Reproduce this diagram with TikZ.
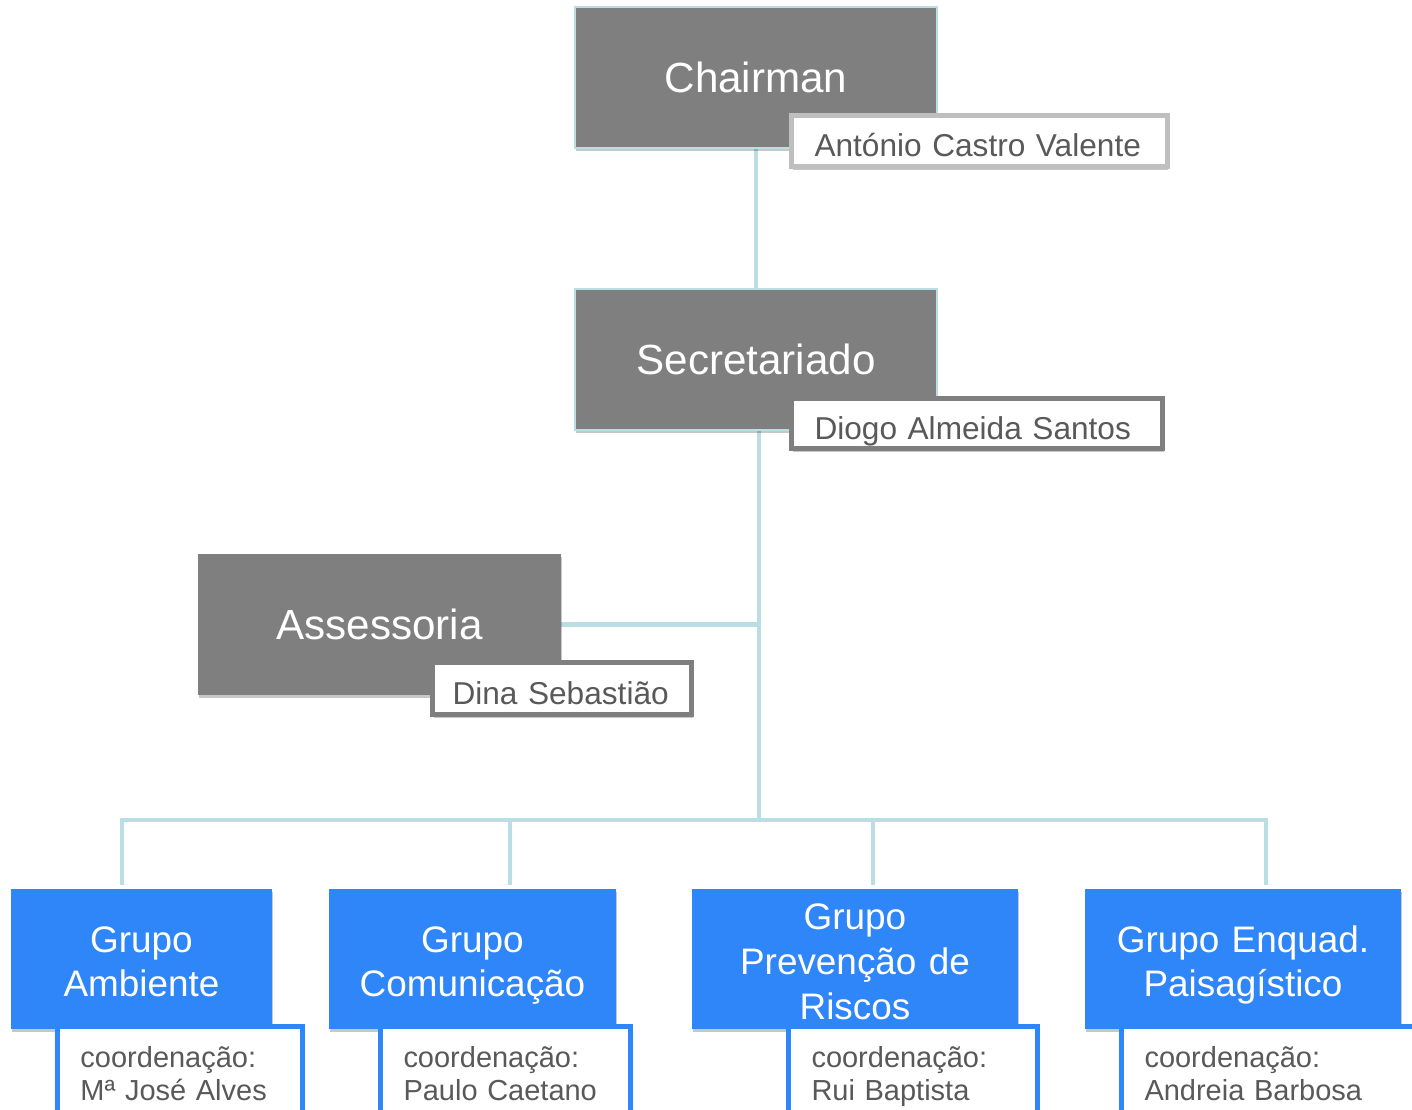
\documentclass[tikz,border=0pt]{standalone}
\usepackage{fontspec}
\setmainfont{Liberation Sans}
\usetikzlibrary{shadows,backgrounds}
\definecolor{boxgray}{HTML}{7F7F7F}
\definecolor{linkteal}{HTML}{BADEE4}
\definecolor{grpblue}{HTML}{2F86F8}
\definecolor{namegray}{HTML}{595959}
\definecolor{lightframe}{HTML}{BFBFBF}

\begin{document}
\begin{tikzpicture}[x=0.02cm, y=-0.02cm,
	boxshadow/.style={drop shadow={shadow xshift=0.6pt, shadow yshift=-1.8pt, opacity=0.22, fill=black}},
	head/.style={boxshadow, fill=boxgray, text=white, anchor=north west, outer sep=0pt, inner sep=0pt, font=\fontsize{24}{28}\selectfont},
	namebox/.style={boxshadow, fill=white, draw=boxgray, line width=2.8pt, anchor=north west, outer sep=0pt, inner xsep=0.46cm, inner ysep=0pt, text height=0.64cm, text depth=0pt, text=namegray, align=left, font=\fontsize{18}{21}\selectfont},
	group/.style={boxshadow, fill=grpblue, text=white, anchor=north west, outer sep=0pt, inner sep=0pt, minimum height=2.8cm, align=center, text height=17.6pt, text depth=25.5pt, font=\fontsize{21}{25.5}\selectfont},
	coord/.style={boxshadow, fill=white, draw=grpblue, line width=2.8pt, anchor=north west, outer sep=0pt, inner xsep=0.46cm, inner ysep=0.39cm, text=namegray, align=left, font=\fontsize{16.5}{19.3}\selectfont},
	link/.style={linkteal, line width=2.8pt, line cap=rect}]
	\useasboundingbox (0,0) rectangle (1412,1109);
	\clip (0,0) rectangle (1412,1109);

	% heads
	\node[head, draw=linkteal, line width=1pt, minimum width=7.24cm, minimum height=2.82cm] (chair) at (575,7) {Chairman};
	\node[namebox, draw=lightframe, text width=6.6cm, minimum height=1.02cm] (chairname) at (791.5,115.5) {António Castro Valente};
	\node[head, draw=linkteal, line width=1pt, minimum width=7.24cm, minimum height=2.82cm] (secr) at (575,289) {Secretariado};
	\node[namebox, text width=6.5cm, minimum height=1.0cm] (secrname) at (791.5,398.5) {Diogo Almeida Santos};
	\node[head, minimum width=7.26cm, minimum height=2.82cm] (ass) at (198,554) {Assessoria};
	\node[namebox, inner xsep=0.4cm, text width=4.38cm, minimum height=1.04cm] (assname) at (432.5,662.5) {Dina Sebastião};

	% groups
	\node[group, text width=5.22cm] (gamb) at (11,889) {Grupo\\Ambiente};
	\node[coord, text width=3.98cm] (gambname) at (57.5,1026.5) {coordenação:\\Mª José Alves};
	\node[group, text width=5.74cm] (gcom) at (329,889) {Grupo\\Comunicação};
	\node[coord, text width=4.08cm] (gcomname) at (380.5,1026.5) {coordenação:\\Paulo Caetano};
	\node[group, text width=6.52cm, text depth=51pt] (gprev) at (692,889) {Grupo\\Prevenção de\\Riscos};
	\node[coord, text width=4.06cm] (gprevname) at (788.5,1026.5) {coordenação:\\Rui Baptista};
	\node[group, text width=6.32cm] (genq) at (1085,889) {Grupo Enquad.\\Paisagístico};
	\node[coord, text width=5.08cm] (genqname) at (1121.5,1026.5) {coordenação:\\Andreia Barbosa};

	% links
	\coordinate (hub) at (759,820);
	\coordinate (j1) at (122,820);
	\coordinate (j2) at (510,820);
	\coordinate (j3) at (873,820);
	\coordinate (j4) at (1266,820);
	\begin{scope}[on background layer]
		\draw[link] (chair.south) -- (secr.north);
		\draw[link] (secr.south -| hub) -- (hub);
		\draw[link] (ass.east) -- (ass.east -| hub);
		\draw[link] (j1) -- (j4);
		\foreach \j/\g in {j1/gamb, j2/gcom, j3/gprev, j4/genq}
			\draw[link, shorten >=0.12cm] (\j) -- (\j |- \g.north);
	\end{scope}
\end{tikzpicture}
\end{document}
